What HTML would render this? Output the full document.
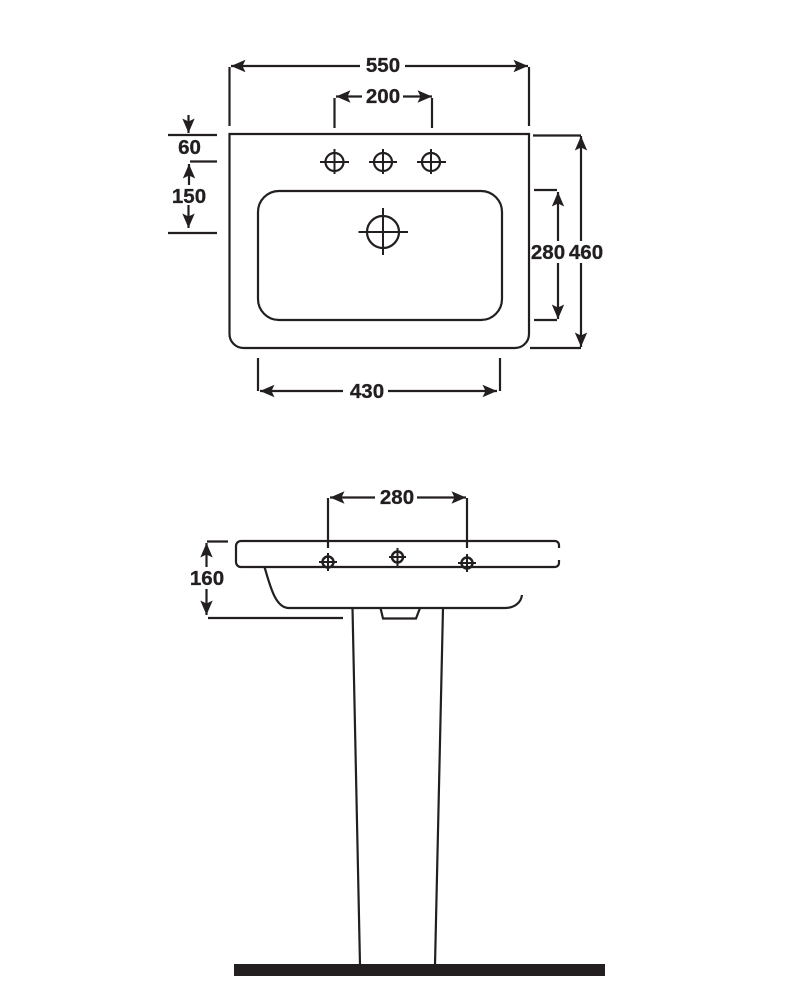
<!DOCTYPE html>
<html><head><meta charset="utf-8">
<style>
html,body{margin:0;padding:0;background:#fff}
svg{display:block}
text{font-family:"Liberation Sans",sans-serif;font-weight:bold;font-size:20.5px;fill:#231f20;stroke:#231f20;stroke-width:.3px;text-anchor:middle}
</style></head>
<body>
<svg width="800" height="1000" viewBox="0 0 800 1000" xmlns="http://www.w3.org/2000/svg">
<defs>
<marker id="a" markerUnits="userSpaceOnUse" markerWidth="20" markerHeight="16" refX="16" refY="8" orient="auto" overflow="visible">
<path d="M16 8 L1.500 1.800 L4.500 8 L1.500 14.200 Z" fill="#231f20"/>
</marker>
</defs>
<rect width="800" height="1000" fill="#fff"/>
<g fill="none" stroke="#231f20" stroke-width="2.200">
<!-- top view -->
<path d="M229.500 134 H529 V334 A14 14 0 0 1 515 348 H243.500 A14 14 0 0 1 229.500 334 Z"/>
<rect x="258" y="191" width="244" height="129" rx="21" ry="21"/>
<circle cx="334.500" cy="162" r="9"/><path d="M320 162 H349 M334.500 149 V174" stroke-width="2"/>
<circle cx="383" cy="162" r="9"/><path d="M369 162 H397 M383 149 V174" stroke-width="2"/>
<circle cx="431" cy="162" r="9"/><path d="M417 162 H446 M431 149 V174" stroke-width="2"/>
<circle cx="383" cy="232" r="16"/><path d="M358.500 232 H408 M383 208 V255" stroke-width="2"/>
<!-- extension lines -->
<path d="M229.500 67 V126 M529 67 V126 M334.500 98 V128 M432 98 V128"/>
<path d="M168 135 H217 M190 161.500 H217 M168 233 H217"/>
<path d="M533 135.500 H581 M530 348 H581 M534 190 H557 M534 320 H557"/>
<path d="M258 358 V391 M500 358 V391"/>
<!-- dimension arrows -->
<path d="M360 66 H231" marker-end="url(#a)"/>
<path d="M405 66 H528" marker-end="url(#a)"/>
<path d="M362 96.500 H336" marker-end="url(#a)"/>
<path d="M403 96.500 H432" marker-end="url(#a)"/>
<path d="M188.500 115 V133" marker-end="url(#a)"/>
<path d="M189 185 V164" marker-end="url(#a)"/>
<path d="M188.500 205 V228" marker-end="url(#a)"/>
<path d="M581 241 V136" marker-end="url(#a)"/>
<path d="M581 263 V347" marker-end="url(#a)"/>
<path d="M558 241 V192" marker-end="url(#a)"/>
<path d="M558 263 V319" marker-end="url(#a)"/>
<path d="M343 391 H260" marker-end="url(#a)"/>
<path d="M388 391 H497" marker-end="url(#a)"/>
<!-- side view -->
<path d="M559 548 V545 A4 4 0 0 0 555 541 H241 A5 5 0 0 0 236 546 V562 A5 5 0 0 0 241 567 H555 A4 4 0 0 0 559 563 V560"/>
<path d="M264.500 567 C270 585 275 608 289 608 H505 C514 608 521 603 522 595"/>
<path d="M380.500 608 L383 618.500 H416 L420 608"/>
<path d="M352.500 608 L360 965 M443 608 L435 965"/>
<path d="M328 498 V548 M467 498 V548"/>
<path d="M207 541.500 H228 M208 618 H343"/>
<path d="M375 497.500 H330" marker-end="url(#a)"/>
<path d="M417 497.500 H466" marker-end="url(#a)"/>
<path d="M206.500 567 V543" marker-end="url(#a)"/>
<path d="M206.500 589 V615" marker-end="url(#a)"/>
<circle cx="328" cy="562" r="5.500" stroke-width="2.400"/><path d="M319 562 H337 M328 553 V571" stroke-width="2"/>
<circle cx="397.500" cy="557" r="5.500" stroke-width="2.400"/><path d="M389 557 H406 M397.500 548 V566" stroke-width="2"/>
<circle cx="467" cy="563" r="5.500" stroke-width="2.400"/><path d="M458 563 H476 M467 554 V572" stroke-width="2"/>
</g>
<rect x="234" y="964" width="371" height="12" fill="#231f20"/>
<text x="383" y="72">550</text>
<text x="383" y="103">200</text>
<text x="189.500" y="154">60</text>
<text x="189" y="203">150</text>
<text x="548" y="259">280</text>
<text x="586" y="259">460</text>
<text x="367" y="398">430</text>
<text x="397" y="504">280</text>
<text x="207" y="585">160</text>
</svg>
</body></html>
